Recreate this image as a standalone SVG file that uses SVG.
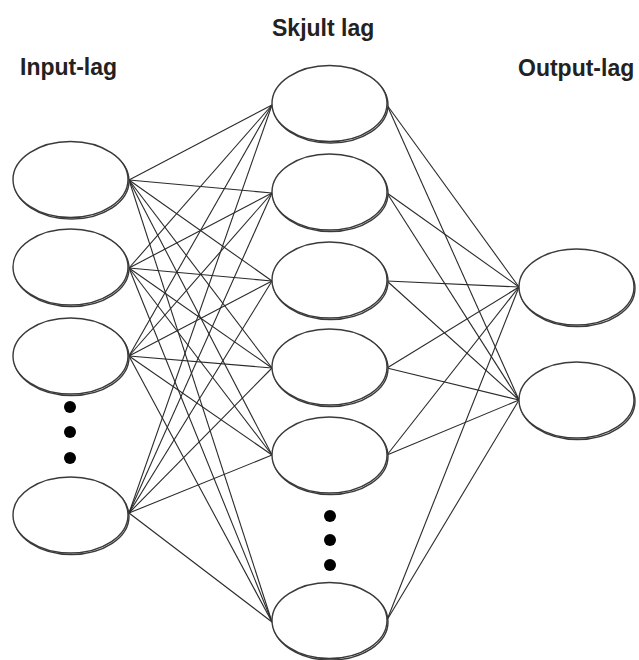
<svg xmlns="http://www.w3.org/2000/svg" width="639" height="660" viewBox="0 0 639 660">
<style>
.node ellipse{fill:#fff;stroke:#3a3a3a;stroke-width:1.4}
.shadow{fill:none;stroke:#c8c8c8;stroke-width:2}
.lbl{font-family:"Liberation Sans",Arial,sans-serif;font-weight:bold;font-size:23px;fill:#222}
#connectors line{stroke:#2a2a2a;stroke-width:1.1}
.dot{fill:#000}
</style>
<rect width="639" height="660" fill="#fff"/>
<text class="lbl" x="20" y="75">Input-lag</text>
<text class="lbl" x="272" y="36">Skjult lag</text>
<text class="lbl" x="518" y="76">Output-lag</text>
<g id="connectors">
<line x1="129" y1="180" x2="272" y2="105"/><line x1="129" y1="180" x2="272" y2="193"/><line x1="129" y1="180" x2="272" y2="281"/><line x1="129" y1="180" x2="272" y2="368"/><line x1="129" y1="180" x2="272" y2="455"/><line x1="129" y1="180" x2="272" y2="622"/>
<line x1="129" y1="268" x2="272" y2="105"/><line x1="129" y1="268" x2="272" y2="193"/><line x1="129" y1="268" x2="272" y2="281"/><line x1="129" y1="268" x2="272" y2="368"/><line x1="129" y1="268" x2="272" y2="455"/><line x1="129" y1="268" x2="272" y2="622"/>
<line x1="129" y1="356" x2="272" y2="105"/><line x1="129" y1="356" x2="272" y2="193"/><line x1="129" y1="356" x2="272" y2="281"/><line x1="129" y1="356" x2="272" y2="368"/><line x1="129" y1="356" x2="272" y2="455"/><line x1="129" y1="356" x2="272" y2="622"/>
<line x1="129" y1="513" x2="272" y2="105"/><line x1="129" y1="513" x2="272" y2="193"/><line x1="129" y1="513" x2="272" y2="281"/><line x1="129" y1="513" x2="272" y2="368"/><line x1="129" y1="513" x2="272" y2="455"/><line x1="129" y1="513" x2="272" y2="622"/>
<line x1="387" y1="105" x2="519" y2="287"/><line x1="387" y1="105" x2="519" y2="400"/>
<line x1="387" y1="193" x2="519" y2="287"/><line x1="387" y1="193" x2="519" y2="400"/>
<line x1="387" y1="281" x2="519" y2="287"/><line x1="387" y1="281" x2="519" y2="400"/>
<line x1="387" y1="368" x2="519" y2="287"/><line x1="387" y1="368" x2="519" y2="400"/>
<line x1="387" y1="455" x2="519" y2="287"/><line x1="387" y1="455" x2="519" y2="400"/>
<line x1="387" y1="620" x2="519" y2="287"/><line x1="387" y1="620" x2="519" y2="400"/>
</g>
<g id="in1" class="node"><ellipse class="shadow" cx="71.5" cy="181" rx="57.5" ry="38"/><ellipse cx="70.5" cy="179.5" rx="57.5" ry="38"/></g>
<g id="in2" class="node"><ellipse class="shadow" cx="71.5" cy="268.5" rx="57.5" ry="38"/><ellipse cx="70.5" cy="267" rx="57.5" ry="38"/></g>
<g id="in3" class="node"><ellipse class="shadow" cx="71.5" cy="357.5" rx="57.5" ry="38"/><ellipse cx="70.5" cy="356" rx="57.5" ry="38"/></g>
<g id="in-dots"><circle class="dot" cx="70" cy="407" r="6"/><circle class="dot" cx="70" cy="432" r="6"/><circle class="dot" cx="70" cy="458" r="6"/></g>
<g id="in4" class="node"><ellipse class="shadow" cx="71.5" cy="516.5" rx="57.5" ry="38"/><ellipse cx="70.5" cy="515" rx="57.5" ry="38"/></g>
<g id="h1" class="node"><ellipse class="shadow" cx="330.5" cy="105" rx="57.5" ry="38"/><ellipse cx="329.5" cy="103.5" rx="57.5" ry="38"/></g>
<g id="h2" class="node"><ellipse class="shadow" cx="330.5" cy="193.5" rx="57.5" ry="38"/><ellipse cx="329.5" cy="192" rx="57.5" ry="38"/></g>
<g id="h3" class="node"><ellipse class="shadow" cx="330.5" cy="281.5" rx="57.5" ry="38"/><ellipse cx="329.5" cy="280" rx="57.5" ry="38"/></g>
<g id="h4" class="node"><ellipse class="shadow" cx="330.5" cy="368.5" rx="57.5" ry="38"/><ellipse cx="329.5" cy="367" rx="57.5" ry="38"/></g>
<g id="h5" class="node"><ellipse class="shadow" cx="330.5" cy="456.5" rx="57.5" ry="38"/><ellipse cx="329.5" cy="455" rx="57.5" ry="38"/></g>
<g id="h-dots"><circle class="dot" cx="330" cy="516" r="6"/><circle class="dot" cx="330" cy="540" r="6"/><circle class="dot" cx="330" cy="565" r="6"/></g>
<g id="h6" class="node"><ellipse class="shadow" cx="330.5" cy="622" rx="57.5" ry="38"/><ellipse cx="329.5" cy="620.5" rx="57.5" ry="38"/></g>
<g id="out1" class="node"><ellipse class="shadow" cx="577.5" cy="288.5" rx="57.5" ry="38"/><ellipse cx="576.5" cy="287" rx="57.5" ry="38"/></g>
<g id="out2" class="node"><ellipse class="shadow" cx="577.5" cy="401.5" rx="57.5" ry="38"/><ellipse cx="576.5" cy="400" rx="57.5" ry="38"/></g>
</svg>
